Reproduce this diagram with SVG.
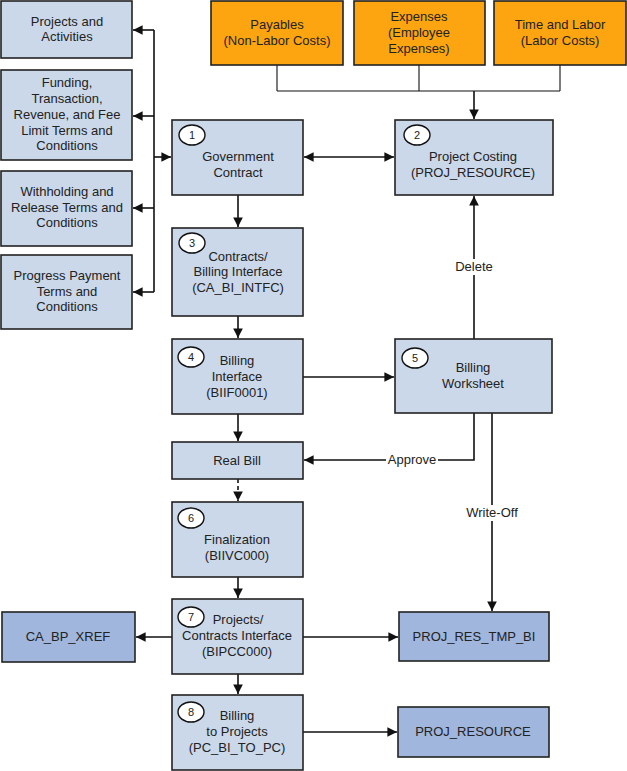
<svg xmlns="http://www.w3.org/2000/svg" width="627" height="771" viewBox="0 0 627 771">
<style>
text{font-family:"Liberation Sans",Arial,sans-serif;font-size:13px;fill:#222;text-anchor:middle}
.n{fill:#cad8ea;stroke:#222;stroke-width:1.6}
.o{fill:#fca510;stroke:#222;stroke-width:1.6}
.d{fill:#a0b6dc;stroke:#222;stroke-width:1.6}
.c{fill:#fff;stroke:#111;stroke-width:1.4}
.num{font-size:11px}
.l{fill:none;stroke:#111;stroke-width:1.6}
.t{fill:none;stroke:#111;stroke-width:1.1}
.a{marker-end:url(#ah)}
.bg{fill:#fff}
</style>
<defs>
<marker id="ah" viewBox="0 0 10 10" refX="10" refY="5" markerWidth="6" markerHeight="6" orient="auto-start-reverse" markerUnits="strokeWidth">
<path d="M0,0 L10,5 L0,10 z" fill="#111"/>
</marker>
</defs>

<g id="connectors">
<path class="t" d="M277,65V91M419,65V91M560,65V91M277,91H560"/>
<path class="l a" d="M474,91V119"/>
<path class="l" d="M154,30V292"/>
<path class="l a" d="M154,30H133"/>
<path class="l a" d="M154,116H133"/>
<path class="l a" d="M154,208H133"/>
<path class="l a" d="M154,292H133"/>
<path class="l a" d="M154,157H171"/>
<path class="l a" d="M304,157H394" marker-start="url(#ah)"/>
<path class="l a" d="M238,195V227"/>
<path class="l a" d="M238,316V338"/>
<path class="l a" d="M303,377H394"/>
<path class="l a" d="M238,414V441"/>
<path class="l a" d="M474,339V196"/>
<rect class="bg" x="451" y="259" width="46" height="16"/>
<text x="474" y="271">Delete</text>
<path class="l a" d="M474,413V460H304"/>
<rect class="bg" x="386" y="452" width="52" height="16"/>
<text x="412" y="464">Approve</text>
<path class="l a" d="M492,413V611"/>
<rect class="bg" x="463" y="505" width="58" height="16"/>
<text x="492" y="517">Write-Off</text>
<path class="l a" d="M238,479V501" stroke-dasharray="4,3"/>
<path class="l a" d="M238,577V598"/>
<path class="l a" d="M172,637H136"/>
<path class="l a" d="M303,637H398"/>
<path class="l a" d="M238,674V694"/>
<path class="l a" d="M303,732H397"/>
</g>

<g id="projects-activities"><rect class="n" x="1" y="1" width="131" height="57"/><text x="67" y="26">Projects and</text><text x="67" y="41">Activities</text></g>
<g id="funding"><rect class="n" x="1" y="70" width="131" height="90"/><text x="67" y="87">Funding,</text><text x="67" y="103">Transaction,</text><text x="67" y="119">Revenue, and Fee</text><text x="67" y="135">Limit Terms and</text><text x="67" y="150">Conditions</text></g>
<g id="withholding"><rect class="n" x="1" y="171" width="131" height="75"/><text x="67" y="196">Withholding and</text><text x="67" y="212">Release Terms and</text><text x="67" y="227">Conditions</text></g>
<g id="progress"><rect class="n" x="1" y="255" width="131" height="74"/><text x="67" y="280">Progress Payment</text><text x="67" y="296">Terms and</text><text x="67" y="311">Conditions</text></g>

<g id="payables"><rect class="o" x="211" y="1" width="132" height="64"/><text x="277" y="29">Payables</text><text x="277" y="45">(Non-Labor Costs)</text></g>
<g id="expenses"><rect class="o" x="354" y="1" width="131" height="64"/><text x="419" y="21">Expenses</text><text x="419" y="37">(Employee</text><text x="419" y="53">Expenses)</text></g>
<g id="timelabor"><rect class="o" x="494" y="1" width="132" height="64"/><text x="560" y="29">Time and Labor</text><text x="560" y="45">(Labor Costs)</text></g>

<g id="gov-contract"><rect class="n" x="172" y="120" width="131" height="75"/><ellipse class="c" cx="192" cy="135" rx="13" ry="10"/><text class="num" x="192" y="139">1</text><text x="238" y="161">Government</text><text x="238" y="177">Contract</text></g>
<g id="project-costing"><rect class="n" x="395" y="120" width="158" height="75"/><ellipse class="c" cx="417" cy="135" rx="13" ry="10"/><text class="num" x="417" y="139">2</text><text x="473" y="161">Project Costing</text><text x="473" y="177">(PROJ_RESOURCE)</text></g>
<g id="ca-bi-intfc"><rect class="n" x="172" y="228" width="131" height="88"/><ellipse class="c" cx="192" cy="243" rx="13" ry="10"/><text class="num" x="192" y="247">3</text><text x="238" y="261">Contracts/</text><text x="238" y="276">Billing Interface</text><text x="238" y="292">(CA_BI_INTFC)</text></g>
<g id="billing-interface"><rect class="n" x="172" y="339" width="131" height="75"/><ellipse class="c" cx="191" cy="357" rx="13" ry="10"/><text class="num" x="191" y="361">4</text><text x="237" y="365">Billing</text><text x="237" y="381">Interface</text><text x="237" y="397">(BIIF0001)</text></g>
<g id="billing-worksheet"><rect class="n" x="395" y="339" width="157" height="74"/><ellipse class="c" cx="415" cy="358" rx="13" ry="10"/><text class="num" x="415" y="362">5</text><text x="473" y="372">Billing</text><text x="473" y="388">Worksheet</text></g>
<g id="real-bill"><rect class="n" x="172" y="442" width="131" height="37"/><text x="237" y="465">Real Bill</text></g>
<g id="finalization"><rect class="n" x="172" y="502" width="131" height="75"/><ellipse class="c" cx="191" cy="518" rx="13" ry="10"/><text class="num" x="191" y="522">6</text><text x="237" y="544">Finalization</text><text x="237" y="560">(BIIVC000)</text></g>
<g id="bipcc"><rect class="n" x="172" y="599" width="131" height="75"/><ellipse class="c" cx="191" cy="617" rx="13" ry="10"/><text class="num" x="191" y="621">7</text><text x="238" y="624">Projects/</text><text x="237" y="640">Contracts Interface</text><text x="237" y="656">(BIPCC000)</text></g>
<g id="pc-bi-to-pc"><rect class="n" x="172" y="695" width="131" height="75"/><ellipse class="c" cx="191" cy="712" rx="13" ry="10"/><text class="num" x="191" y="716">8</text><text x="237" y="720">Billing</text><text x="237" y="736">to Projects</text><text x="237" y="752">(PC_BI_TO_PC)</text></g>
<g id="ca-bp-xref"><rect class="d" x="2" y="612" width="133" height="50"/><text x="68" y="641">CA_BP_XREF</text></g>
<g id="proj-res-tmp-bi"><rect class="d" x="399" y="612" width="150" height="49"/><text x="474" y="641">PROJ_RES_TMP_BI</text></g>
<g id="proj-resource"><rect class="d" x="398" y="707" width="151" height="50"/><text x="473" y="736">PROJ_RESOURCE</text></g>
</svg>
